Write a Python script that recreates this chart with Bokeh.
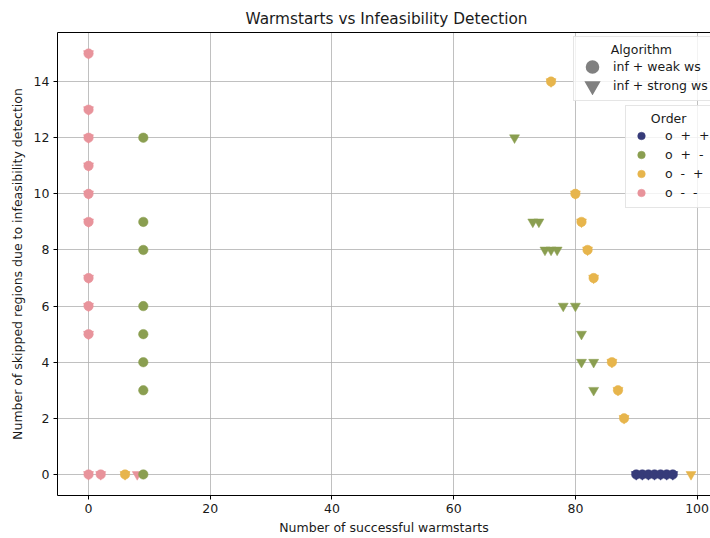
from bokeh.plotting import figure
from bokeh.models import Legend, LegendItem, Range1d, FixedTicker, LinearAxis, ColumnDataSource
from bokeh.embed import file_html
from bokeh.resources import INLINE

# ---- data ----
orders = ["o  +  +", "o  +  -", "o  -  +", "o  -  -"]
order_colors = ["#363b79", "#8a9e50", "#e7b54c", "#e8939b"]
algorithms = ["inf + weak ws", "inf + strong ws"]

navy_weak_x = [90, 91, 92, 93, 94, 95, 96]
navy_weak_y = [0, 0, 0, 0, 0, 0, 0]
navy_strong_x = [90, 91, 92, 93, 94, 95, 96]
navy_strong_y = [0, 0, 0, 0, 0, 0, 0]

green_weak_x = [9, 9, 9, 9, 9, 9, 9, 9]
green_weak_y = [12, 9, 8, 6, 5, 4, 3, 0]
green_strong_x = [70, 73, 74, 75, 76, 77, 78, 80, 81, 81, 83, 83]
green_strong_y = [12, 9, 9, 8, 8, 8, 6, 6, 5, 4, 4, 3]

yellow_weak_x = [76, 80, 81, 82, 83, 86, 87, 88, 6]
yellow_weak_y = [14, 10, 9, 8, 7, 4, 3, 2, 0]
yellow_strong_x = [76, 80, 81, 82, 83, 86, 87, 88, 6, 99]
yellow_strong_y = [14, 10, 9, 8, 7, 4, 3, 2, 0, 0]

pink_weak_x = [0, 0, 0, 0, 0, 0, 0, 0, 0, 0, 2]
pink_weak_y = [15, 13, 12, 11, 10, 9, 7, 6, 5, 0, 0]
pink_strong_x = [0, 0, 0, 0, 0, 0, 0, 0, 0, 0, 2, 8]
pink_strong_y = [15, 13, 12, 11, 10, 9, 7, 6, 5, 0, 0, 0]

x_ticks = [0, 20, 40, 60, 80, 100]
y_ticks = [0, 2, 4, 6, 8, 10, 12, 14]

weak = [(navy_weak_x, navy_weak_y), (green_weak_x, green_weak_y),
        (yellow_weak_x, yellow_weak_y), (pink_weak_x, pink_weak_y)]
strong = [(navy_strong_x, navy_strong_y), (green_strong_x, green_strong_y),
          (yellow_strong_x, yellow_strong_y), (pink_strong_x, pink_strong_y)]

FONT = "DejaVu Sans"
TXT = "#1a1a1a"

p = figure(width=710, height=538, x_range=Range1d(-5.1, 102.2), y_range=Range1d(-0.75, 15.75),
           output_backend="svg", toolbar_location=None,
           min_border_left=57, min_border_right=0, min_border_top=32, min_border_bottom=43)

p.title.text = "Warmstarts vs Infeasibility Detection"
p.title.text_font = FONT
p.title.text_font_size = "15.3px"
p.title.text_font_style = "normal"
p.title.text_color = TXT
p.title.align = "left"
p.title.offset = 188

p.outline_line_color = None
p.background_fill_color = "white"
p.border_fill_color = "white"

for ax in (p.xaxis[0], p.yaxis[0]):
    ax.major_label_text_font = FONT
    ax.major_label_text_font_size = "12.5px"
    ax.major_label_text_color = TXT
    ax.axis_label_text_font = FONT
    ax.axis_label_text_font_size = "12.5px"
    ax.axis_label_text_font_style = "normal"
    ax.axis_label_text_color = TXT
    ax.axis_line_color = "black"
    ax.axis_line_width = 1
    ax.major_tick_line_color = "black"
    ax.major_tick_out = 4
    ax.major_tick_in = 0
    ax.minor_tick_line_color = None
    ax.major_label_standoff = 4

p.xaxis.axis_label = "Number of successful warmstarts"
p.yaxis.axis_label = "Number of skipped regions due to infeasibility detection"
p.xaxis.axis_label_standoff = 4
p.yaxis.axis_label_standoff = 6
p.xaxis.ticker = FixedTicker(ticks=x_ticks)
p.yaxis.ticker = FixedTicker(ticks=y_ticks)

top_axis = LinearAxis(ticker=FixedTicker(ticks=[]), major_tick_out=0, major_tick_in=0,
                      minor_tick_out=0, minor_tick_in=0, major_label_text_font_size="0px",
                      axis_line_color="black", axis_line_width=1)
p.add_layout(top_axis, "above")

p.xgrid.ticker = FixedTicker(ticks=x_ticks)
p.ygrid.ticker = FixedTicker(ticks=y_ticks)
p.grid.grid_line_color = "#b0b0b0"
p.grid.grid_line_width = 0.8

# triangles first, then circles
for (xs, ys), c in zip(strong, order_colors):
    p.scatter(xs, ys, marker="inverted_triangle", size=10, fill_color=c, line_color=c, line_width=0.5)

circle_renderers = []
for (xs, ys), c in zip(weak, order_colors):
    r = p.scatter(xs, ys, marker="circle", size=9.5, fill_color=c, line_color=c, line_width=0.5)
    circle_renderers.append(r)

# legend-only renderers for the algorithm markers (no visible data)
nan = float("nan")
key_src = ColumnDataSource(data=dict(x=[nan], y=[nan]))
alg_circle = p.scatter("x", "y", source=key_src, marker="circle", fill_color="#808080",
                       line_color="#808080", line_width=6)
alg_tri = p.scatter("x", "y", source=key_src, marker="inverted_triangle", fill_color="#808080",
                    line_color="#808080", line_width=5, line_join="miter")

alg_legend = Legend(
    items=[LegendItem(label=algorithms[0], renderers=[alg_circle]),
           LegendItem(label=algorithms[1], renderers=[alg_tri])],
    title="\u00a0\u00a0\u00a0\u00a0\u00a0\u00a0\u00a0\u00a0Algorithm",
    location=(516, 394),
    glyph_width=26, glyph_height=19, label_height=19, spacing=0, padding=5,
    label_standoff=8, title_standoff=0,
    label_text_font=FONT, label_text_font_size="12.5px", label_text_color=TXT,
    title_text_font=FONT, title_text_font_size="12.5px", title_text_font_style="normal",
    title_text_color=TXT,
    border_line_color="#cccccc", border_line_width=1,
    background_fill_color="white", background_fill_alpha=0.8,
)

order_legend = Legend(
    items=[LegendItem(label=o, renderers=[r]) for o, r in zip(orders, circle_renderers)],
    title="\u00a0\u00a0\u00a0\u00a0\u00a0Order",
    location=(568, 287),
    glyph_width=20, glyph_height=19, label_height=19, spacing=0, padding=5,
    label_standoff=14, title_standoff=0,
    label_text_font=FONT, label_text_font_size="12.5px", label_text_color=TXT,
    title_text_font=FONT, title_text_font_size="12.5px", title_text_font_style="normal",
    title_text_color=TXT,
    border_line_color="#cccccc", border_line_width=1,
    background_fill_color="white", background_fill_alpha=0.8,
)

p.add_layout(alg_legend, "center")
p.add_layout(order_legend, "center")

open("out.html", "w").write(file_html(p, INLINE))
